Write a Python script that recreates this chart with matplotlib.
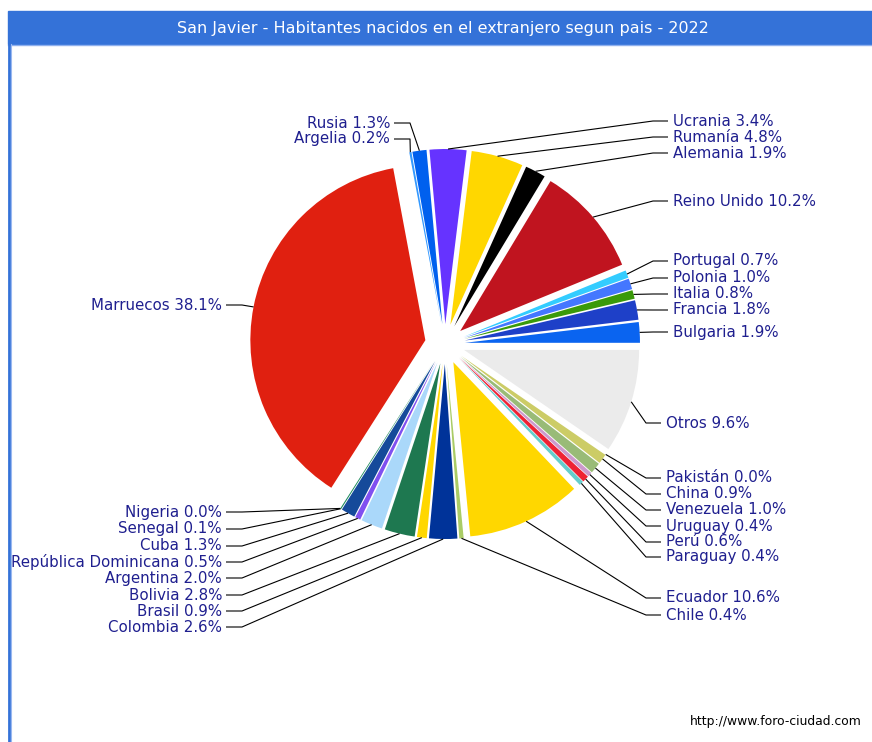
import matplotlib
matplotlib.use("Agg")
import matplotlib.pyplot as plt
import numpy as np

# pie data, counter-clockwise from 3 o'clock
countries = ["Bulgaria", "Francia", "Italia", "Polonia", "Portugal", "Reino Unido",
             "Alemania", "Rumanía", "Ucrania", "Rusia", "Argelia", "Marruecos",
             "Nigeria", "Senegal", "Cuba", "República Dominicana", "Argentina",
             "Bolivia", "Brasil", "Colombia", "Chile", "Ecuador", "Paraguay",
             "Perú", "Uruguay", "Venezuela", "China", "Pakistán", "Otros"]
percent = [1.9, 1.8, 0.8, 1.0, 0.7, 10.2,
           1.9, 4.8, 3.4, 1.3, 0.2, 38.1,
           0.0, 0.1, 1.3, 0.5, 2.0,
           2.8, 0.9, 2.6, 0.4, 10.6, 0.4,
           0.6, 0.4, 1.0, 0.9, 0.0, 9.6]
colors = ["#0a64f0", "#1e40c8", "#3a9a0a", "#4477ff", "#33ccff", "#c0141f",
          "#000000", "#ffd700", "#6633ff", "#0060ee", "#3399ff", "#e02010",
          "#2a7a2a", "#1a8a5a", "#154a9a", "#8050f0", "#aad8fa",
          "#1e7850", "#ffd700", "#003399", "#aacc66", "#ffd700", "#66cccc",
          "#ee2233", "#cc99cc", "#99bb77", "#cccc66", "#226622", "#ebebeb"]

# label layout (image pixel coords): text x, text y
label_x = [673, 673, 673, 673, 673, 673,
           673, 673, 673, 390, 390, 222,
           222, 222, 222, 222, 222,
           222, 222, 222, 666, 666, 666,
           666, 666, 666, 666, 666, 666]
label_y = [332, 310, 294, 278, 261, 201,
           153, 137, 121, 123, 139, 305,
           512, 529, 546, 562, 578,
           595, 611, 627, 615, 598, 557,
           542, 526, 510, 494, 478, 423]

W, H = 872, 742
cx, cy, R = 445, 344, 175
expl = 20  # pie offsets wedges by this many data units
txt_color = "#1f1f8f"

fig = plt.figure(figsize=(W / 100, H / 100), dpi=100)
ax = fig.add_axes([0, 0, 1, 1])

# y axis inverted -> counterclock=False looks counter-clockwise on screen
wedges, _ = ax.pie(percent, colors=colors, startangle=0, counterclock=False,
                   explode=[expl] * len(percent), center=(cx, cy), radius=R,
                   wedgeprops=dict(linewidth=0))

ax.set_xlim(0, W)
ax.set_ylim(H, 0)
ax.set_aspect("equal")
ax.axis("off")

for w, name, p, tx, ty in zip(wedges, countries, percent, label_x, label_y):
    mid = np.deg2rad((w.theta1 + w.theta2) / 2)
    rr = R + expl
    axx = cx + rr * np.cos(mid)
    axy = cy + rr * np.sin(mid)
    if tx > cx:
        xs = [axx, tx - 20, tx - 5]
        ha = "left"
    else:
        xs = [axx, tx + 20, tx + 4]
        ha = "right"
    ax.plot(xs, [axy, ty, ty], color="black", lw=0.8, solid_capstyle="butt")
    ax.text(tx, ty, f"{name} {p:.1f}%", ha=ha, va="center", fontsize=10.8,
            color=txt_color)

# frame: title bar and left border
ax.add_patch(plt.Rectangle((8, 11), W - 8, 33, color="#3472d8", zorder=5))
ax.plot([8, W], [44.5, 44.5], color="#8fb0ee", lw=1, zorder=6)
ax.plot([9, 9], [44, H], color="#3472d8", lw=2, zorder=6)
ax.plot([10.5, 10.5], [44, H], color="#9ab8f0", lw=0.8, zorder=6)
ax.text(443, 28, "San Javier - Habitantes nacidos en el extranjero segun pais - 2022",
        ha="center", va="center", color="white", fontsize=11.5, zorder=7)
ax.text(862, 722, "http://www.foro-ciudad.com", ha="right", va="center",
        fontsize=8.9, color="black")

fig.savefig("out.png", dpi=100)
